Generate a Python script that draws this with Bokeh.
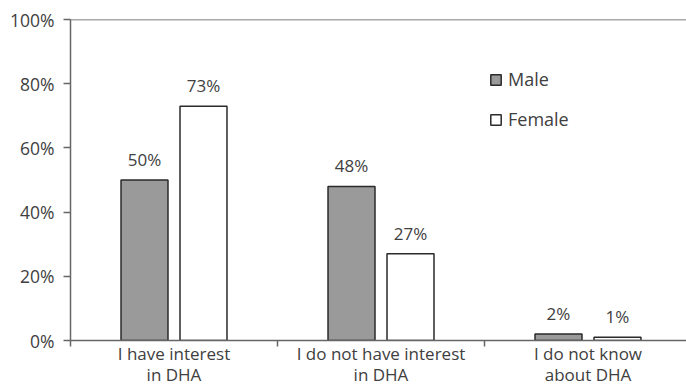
from bokeh.plotting import figure
from bokeh.models import (ColumnDataSource, Range1d, FixedTicker, LabelSet, Span,
                          Legend, LegendItem)
from bokeh.core.properties import value
from bokeh.transform import dodge
from bokeh.embed import file_html
from bokeh.resources import INLINE

categories = ["I have interest\nin DHA", "I do not have interest\nin DHA", "I do not know\nabout DHA"]
male = [50, 48, 2]
female = [73, 27, 1]
y_ticks = [0, 20, 40, 60, 80, 100]

FONT = "Open Sans"
TXT = "#404040"

xs = [i + 0.5 for i in range(len(categories))]
src = ColumnDataSource(dict(
    x=xs, male=male, female=female,
    male_lbl=[f"{v}%" for v in male],
    female_lbl=[f"{v}%" for v in female],
))

p = figure(width=686, height=389, output_backend="svg", toolbar_location=None,
           x_range=Range1d(0, 616 / 207), y_range=Range1d(0, 100),
           min_border_left=70, min_border_right=0, min_border_top=19, min_border_bottom=48)
p.outline_line_color = None
p.xgrid.visible = False
p.ygrid.visible = False

off = 0.1425
bw = 0.227
r_m = p.vbar(x=dodge("x", -off, range=p.x_range), top="male", width=bw, source=src,
             fill_color="#9a9a9a", line_color="#2a2a2a", line_width=1.5)
r_f = p.vbar(x=dodge("x", off, range=p.x_range), top="female", width=bw, source=src,
             fill_color="white", line_color="#2a2a2a", line_width=1.5)

for col, lbl, d in (("male", "male_lbl", -off), ("female", "female_lbl", off)):
    ls = LabelSet(x=dodge("x", d, range=p.x_range), y=col, text=lbl, source=src,
                  text_align="center", text_baseline="bottom", y_offset=9,
                  text_font=value(FONT), text_font_size="17px", text_color=TXT)
    p.add_layout(ls)

p.add_layout(Span(location=100, dimension="width", line_color="#555555", line_width=1.5))

# y axis
p.yaxis.ticker = FixedTicker(ticks=y_ticks)
p.yaxis.major_label_overrides = {t: f"{t}%" for t in y_ticks}
p.yaxis.major_tick_out = 7
p.yaxis.major_tick_in = 0
p.yaxis.minor_tick_out = 0
p.yaxis.minor_tick_in = 0
p.yaxis.axis_line_color = "#666666"
p.yaxis.axis_line_width = 1.5
p.yaxis.major_tick_line_color = "#666666"
p.yaxis.major_tick_line_width = 1.5
p.yaxis.major_label_text_font = FONT
p.yaxis.major_label_text_font_size = "17.5px"
p.yaxis.major_label_text_color = TXT
p.yaxis.major_label_standoff = 9

# x axis
p.xaxis.ticker = FixedTicker(ticks=xs, minor_ticks=[0, 1, 2, 3])
p.xaxis.major_label_overrides = {x: c for x, c in zip(xs, categories)}
p.xaxis.major_tick_out = 0
p.xaxis.major_tick_in = 0
p.xaxis.minor_tick_out = 6
p.xaxis.minor_tick_in = 0
p.xaxis.minor_tick_line_color = "#666666"
p.xaxis.minor_tick_line_width = 1.5
p.xaxis.axis_line_color = "#666666"
p.xaxis.axis_line_width = 1.5
p.xaxis.major_label_text_font = FONT
p.xaxis.major_label_text_font_size = "17px"
p.xaxis.major_label_text_color = TXT
p.xaxis.major_label_text_line_height = 0.95
p.xaxis.major_label_standoff = -5

legend = Legend(items=[LegendItem(label="Male", renderers=[r_m]),
                       LegendItem(label="Female", renderers=[r_f])],
                location=(419, 209), padding=0, margin=0, spacing=16,
                glyph_width=13, glyph_height=13, label_height=20,
                label_standoff=6, border_line_color=None, background_fill_alpha=0,
                label_text_font=FONT, label_text_font_size="18px", label_text_color=TXT)
p.add_layout(legend)

open("out.html", "w").write(file_html(p, INLINE))
